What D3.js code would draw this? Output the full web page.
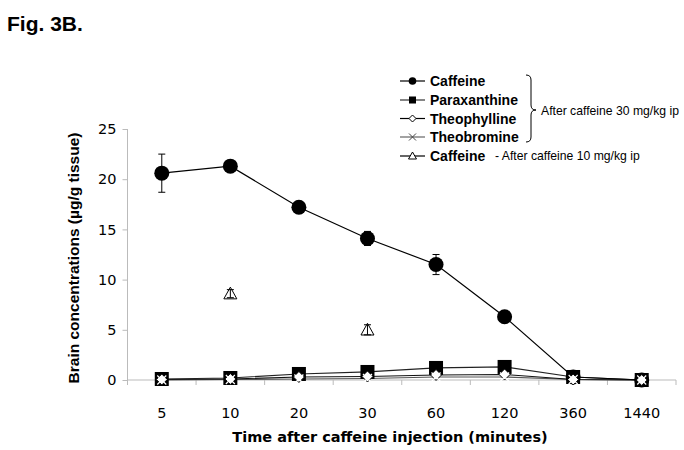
<!DOCTYPE html>
<html><head><meta charset="utf-8">
<script src="https://cdn.jsdelivr.net/npm/d3@7"></script>
<style>body{margin:0;background:#fff}svg{display:block}</style>
</head><body><svg id="c" width="684" height="450"></svg>
<script>
const categories = ["5","10","20","30","60","120","360","1440"];
const yTicks = [0,5,10,15,20,25];
const caffeine30 = [20.6,21.3,17.2,14.1,11.5,6.3,0.3,0];
const caffeine30Err = [1.9,0.5,0.2,0.7,1.0,0.2,0.1,0];
const paraxanthine = [0.1,0.2,0.6,0.8,1.2,1.3,0.3,0];
const theophylline = [0.05,0.1,0.3,0.35,0.5,0.55,0.05,0];
const theobromine = [0.0,0.05,0.1,0.15,0.3,0.3,0.05,0];
const caffeine10Cats = ["10","30"];
const caffeine10 = [8.6,5.0];
const caffeine10Err = [0.4,0.5];
const seriesNames = ["Caffeine","Paraxanthine","Theophylline","Theobromine","Caffeine"];

const svg = d3.select("#c");
const x = d3.scaleBand().domain(categories).range([127.5, 676]);
const y = d3.scaleLinear().domain([0,25]).range([380,129]);
const cx = c => x(c) + x.bandwidth()/2;

// title
svg.append("text").attr("x",7).attr("y",31).attr("font-family","Liberation Sans, Arial").attr("font-weight","bold").attr("font-size",21).text("Fig. 3B.");

// axes
const yAxis = svg.append("g").attr("transform","translate(127.5,0)")
  .call(d3.axisLeft(y).tickValues(yTicks).tickSize(5).tickPadding(6));
yAxis.selectAll("path,line").attr("stroke","#bbb");
yAxis.select(".domain").attr("d","M0,"+y(25)+"V"+y(0));
yAxis.selectAll("text").attr("font-family","DejaVu Sans, Verdana").attr("font-size",14.5).attr("fill","#000");

const xAxis = svg.append("g").attr("transform","translate(0,"+y(0)+")")
  .call(d3.axisBottom(x).tickSize(0).tickPadding(28));
xAxis.select(".domain").attr("stroke","#bbb").attr("d","M127.5,0H676");
xAxis.selectAll("text").attr("font-family","DejaVu Sans, Verdana").attr("font-size",14.5).attr("fill","#000");
const bounds = categories.map(c=>x(c)).concat([x(categories[categories.length-1])+x.bandwidth()]);
xAxis.selectAll("line.bt").data(bounds).enter().append("line").attr("class","bt")
  .attr("x1",d=>d).attr("x2",d=>d).attr("y1",0).attr("y2",5).attr("stroke","#bbb");

// axis titles
svg.append("text").attr("transform","translate(79,258) rotate(-90)").attr("text-anchor","middle")
  .attr("font-family","Liberation Sans, Arial").attr("font-weight","bold").attr("font-size",15.5)
  .text("Brain concentrations (µg/g tissue)");
svg.append("text").attr("x",390).attr("y",442).attr("text-anchor","middle")
  .attr("font-family","DejaVu Sans, Verdana").attr("font-weight","bold").attr("font-size",14.5)
  .text("Time after caffeine injection (minutes)");

const line = d3.line().x((d,i)=>cx(categories[i])).y(d=>y(d));
const g = svg.append("g");
g.append("path").attr("d",line(theobromine)).attr("fill","none").attr("stroke","#555").attr("stroke-width",1.2);
g.append("path").attr("d",line(theophylline)).attr("fill","none").attr("stroke","#111").attr("stroke-width",1.2);
g.append("path").attr("d",line(paraxanthine)).attr("fill","none").attr("stroke","#222").attr("stroke-width",1.2);
g.append("path").attr("d",line(caffeine30)).attr("fill","none").attr("stroke","#000").attr("stroke-width",1.2);

function errBars(cats, vals, errs){
  cats.forEach((c,i)=>{
    if(errs[i]<=0) return;
    const px=cx(c), t=y(vals[i]+errs[i]), b=y(vals[i]-errs[i]);
    g.append("line").attr("x1",px).attr("x2",px).attr("y1",t).attr("y2",b).attr("stroke","#000").attr("stroke-width",1);
    [t,b].forEach(yy=>g.append("line").attr("x1",px-3.5).attr("x2",px+3.5).attr("y1",yy).attr("y2",yy).attr("stroke","#000").attr("stroke-width",1));
  });
}
errBars(categories, caffeine30, caffeine30Err);

function square(px,py,s){ g.append("rect").attr("x",px-s/2).attr("y",py-s/2).attr("width",s).attr("height",s).attr("fill","#000"); }
function diamond(px,py,s){ g.append("path").attr("d",`M${px},${py-s}L${px+s},${py}L${px},${py+s}L${px-s},${py}Z`).attr("fill","#fff").attr("stroke","#000").attr("stroke-width",1); }
function cross(px,py,s){ g.append("path").attr("d",`M${px-s},${py-s}L${px+s},${py+s}M${px-s},${py+s}L${px+s},${py-s}`).attr("stroke","#fff").attr("stroke-width",1.2); }
function tri(px,py,s){ g.append("path").attr("d",`M${px},${py-s}L${px+s},${py+s*0.8}L${px-s},${py+s*0.8}Z`).attr("fill","#fff").attr("stroke","#000").attr("stroke-width",1); }

caffeine30.forEach((v,i)=>g.append("circle").attr("cx",cx(categories[i])).attr("cy",y(v)).attr("r",7.5).attr("fill","#000"));
paraxanthine.forEach((v,i)=>square(cx(categories[i]),y(v),14));
theophylline.forEach((v,i)=>diamond(cx(categories[i]),y(v),5.5));
theobromine.forEach((v,i)=>cross(cx(categories[i]),y(v),4.5));
caffeine10.forEach((v,i)=>tri(cx(caffeine10Cats[i]),y(v),6.5));
errBars(caffeine10Cats, caffeine10, caffeine10Err);

// legend
const lg = svg.append("g");
const rows = [81,100,118.5,137,156];
const lineCols = ["#000","#333","#000","#666","#000"];
rows.forEach((ry,i)=>{
  lg.append("line").attr("x1",400).attr("x2",425).attr("y1",ry).attr("y2",ry).attr("stroke",lineCols[i]).attr("stroke-width",1.2);
  const px=412.5;
  if(i===0) lg.append("circle").attr("cx",px).attr("cy",ry).attr("r",3.8).attr("fill","#000");
  if(i===1) lg.append("rect").attr("x",px-3.5).attr("y",ry-3.5).attr("width",7).attr("height",7).attr("fill","#000");
  if(i===2) lg.append("path").attr("d",`M${px},${ry-3.5}L${px+3.5},${ry}L${px},${ry+3.5}L${px-3.5},${ry}Z`).attr("fill","#fff").attr("stroke","#000");
  if(i===3) lg.append("path").attr("d",`M${px-3.5},${ry-3.5}L${px+3.5},${ry+3.5}M${px-3.5},${ry+3.5}L${px+3.5},${ry-3.5}`).attr("stroke","#444");
  if(i===4) lg.append("path").attr("d",`M${px},${ry-4}L${px+4},${ry+3}L${px-4},${ry+3}Z`).attr("fill","#fff").attr("stroke","#000");
  lg.append("text").attr("x",430).attr("y",ry+5).attr("font-family","Liberation Sans, Arial").attr("font-weight","bold").attr("font-size",14).text(seriesNames[i]);
});
lg.append("path").attr("d","M526,75 Q531,75 531,80 L531,105 Q531,110 536,110 Q531,110 531,115 L531,137 Q531,142 526,142")
  .attr("fill","none").attr("stroke","#000").attr("stroke-width",1);
lg.append("text").attr("x",541).attr("y",115).attr("font-family","Liberation Sans, Arial").attr("font-size",12.2).text("After caffeine 30 mg/kg ip");
lg.append("text").attr("x",495).attr("y",160).attr("font-family","Liberation Sans, Arial").attr("font-size",12.2).text("- After caffeine 10 mg/kg ip");
</script></body></html>
